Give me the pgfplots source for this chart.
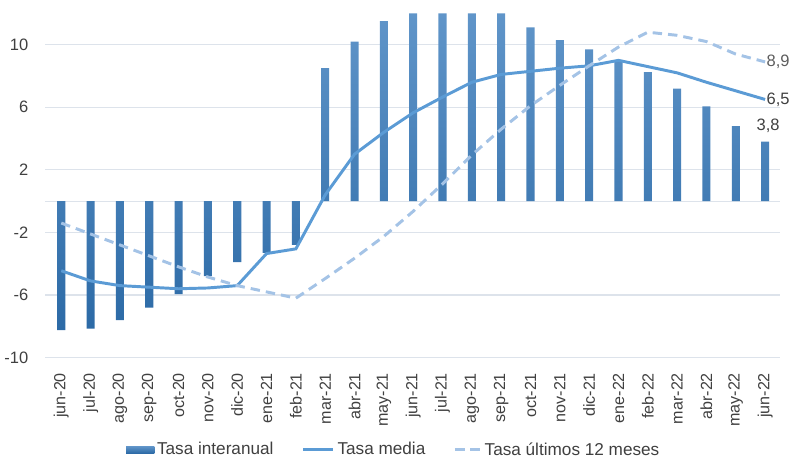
\documentclass[border=0pt]{standalone}
\usepackage{pgfplots}
\pgfplotsset{compat=1.18}
\usepackage{fontspec}
\setmainfont{Liberation Sans}

\definecolor{barTop}{HTML}{6095C9}
\definecolor{barBot}{HTML}{2C6AA6}
\definecolor{media}{HTML}{5B9BD5}
\definecolor{ultimos}{HTML}{A4C3E6}
\definecolor{gridc}{HTML}{DDE3EB}
\definecolor{txt}{HTML}{404040}

\pgfplotstableread{
x interanual media ultimos
0  -8.25 -4.45 -1.4
1  -8.15 -5.1  -2.1
2  -7.6  -5.4  -2.8
3  -6.8  -5.5  -3.5
4  -5.95 -5.6  -4.2
5  -4.8  -5.55 -4.85
6  -3.9  -5.4  -5.4
7  -3.3  -3.35 -5.8
8  -2.8  -3.05 -6.2
9  8.5   0.4   -4.95
10 10.2  3.0   -3.65
11 11.5  4.4   -2.25
12 12    5.65  -0.65
13 12    6.65  1.1
14 12    7.6   2.95
15 12    8.1   4.6
16 11.1  8.3   6.1
17 10.3  8.5   7.4
18 9.7   8.65  8.65
19 9.0   9.0   9.85
20 8.25  8.6   10.8
21 7.2   8.2   10.6
22 6.05  7.6   10.2
23 4.8   7.05  9.4
24 3.8   6.5   8.9
}\datos

\begin{document}
\begin{tikzpicture}
\begin{axis}[
    scale only axis,
    width=547.5pt, height=256.5pt,
    xmin=-0.55, xmax=24.5,
    ymin=-10, ymax=12,
    clip=false,
    axis line style={draw=none},
    major tick length=0pt,
    ytick={-10,-6,-2,2,6,10},
    extra y ticks={0},
    extra y tick labels={},
    extra y tick style={grid=major},
    ymajorgrids=true,
    grid style={gridc, line width=0.8pt},
    xtick={0,...,24},
    xticklabels={jun-20,jul-20,ago-20,sep-20,oct-20,nov-20,dic-20,ene-21,feb-21,mar-21,abr-21,may-21,jun-21,jul-21,ago-21,sep-21,oct-21,nov-21,dic-21,ene-22,feb-22,mar-22,abr-22,may-22,jun-22},
    xticklabel style={rotate=90, anchor=east, font=\fontsize{12}{14}\selectfont, text=txt},
    xticklabel shift=8pt,
    yticklabel style={font=\fontsize{12.3}{14}\selectfont, text=txt},
    yticklabel shift=9pt,
    /pgf/number format/assume math mode=true,
    legend columns=3,
    legend style={draw=none, at={(0.475,-0.23)}, anchor=north,
        font=\fontsize{12.8}{15}\selectfont, text=txt,
        /tikz/every odd column/.append style={column sep=0pt},
        /tikz/every even column/.append style={column sep=19pt}},
]
\addplot[ybar, bar width=6pt, draw=none, top color=barTop, bottom color=barBot,
    legend image code/.code={\fill[barBot!90!barTop] (0pt,-2.6pt) rectangle (21pt,2.6pt);}]
    table[x=x, y=interanual] {\datos};
\addlegendentry{Tasa interanual}
\addplot[media, line width=2.2pt, mark=none,
    legend image code/.code={\draw[media, line width=2.2pt] (0pt,0pt) -- (22.5pt,0pt);}]
    table[x=x, y=media] {\datos};
\addlegendentry{Tasa media}
\addplot[ultimos, line width=2.2pt, mark=none, dash pattern=on 7pt off 4.5pt,
    legend image code/.code={\draw[ultimos, line width=2.2pt, dash pattern=on 7.5pt off 4pt] (0pt,0pt) -- (19pt,0pt);}]
    table[x=x, y=ultimos] {\datos};
\addlegendentry{Tasa últimos 12 meses}

\node[anchor=west, text=txt!85, font=\fontsize{12.3}{14}\selectfont, inner sep=1pt] at (axis cs:24,8.9) {8,9};
\node[anchor=west, text=txt, font=\fontsize{12.3}{14}\selectfont, inner sep=1pt] at (axis cs:24,6.5) {6,5};
\node[anchor=south, text=txt, font=\fontsize{12.3}{14}\selectfont, inner sep=1pt] at (axis cs:24.1,4.3) {3,8};
\path (rel axis cs:0,1) ++(0pt,10pt);
\end{axis}
\end{tikzpicture}
\end{document}
